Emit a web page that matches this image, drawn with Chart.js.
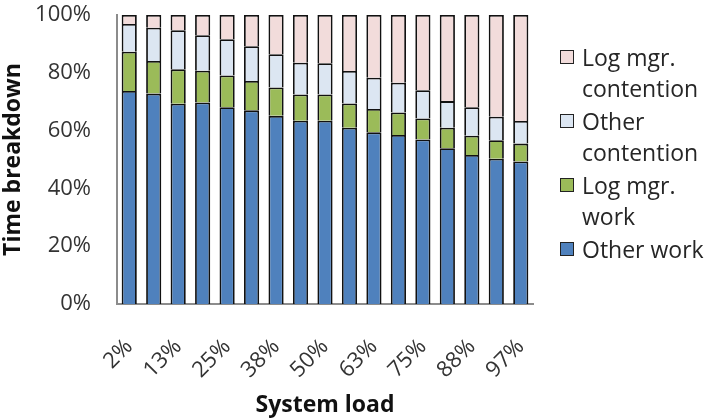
<!DOCTYPE html>
<html>
<head>
<meta charset="utf-8">
<script src="https://cdn.jsdelivr.net/npm/chart.js@4"></script>
<style>
  body { margin: 0; background: #fff; }
  #wrap { position: relative; width: 714px; height: 419px; }
  #legend { position: absolute; left: 560px; top: 42px; font-family: 'Open Sans', sans-serif; font-size: 23px; color: #262626; }
  .item { display: flex; align-items: flex-start; margin-bottom: 2px; }
  .box { width: 12px; height: 12px; border: 1.5px solid #222; margin-top: 8px; margin-right: 8px; flex: none; }
  .txt { line-height: 31px; }
</style>
</head>
<body>
<div id="wrap">
  <canvas id="load" width="714" height="419"></canvas>
  <div id="legend"></div>
</div>
<script>
const loads = ['2%','7%','13%','19%','25%','31%','38%','44%','50%','56%','63%','69%','75%','81%','88%','94%','97%']

const otherWork = [73.7, 72.8, 69.3, 69.7, 68.1, 67.0, 65.1, 63.4, 63.4, 61.0, 59.4, 58.5, 56.9, 53.9, 51.6, 50.3, 49.3]
const logWork = [13.6, 11.3, 11.9, 11.0, 11.0, 10.2, 9.8, 9.1, 9.1, 8.4, 8.1, 7.8, 7.3, 7.1, 6.6, 6.4, 6.2]
const otherCont = [9.6, 11.5, 13.5, 12.3, 12.5, 12.0, 11.5, 11.0, 10.8, 11.2, 10.8, 10.3, 9.8, 9.2, 9.9, 8.1, 7.8]
const logCont = [3.1, 4.4, 5.3, 7.0, 8.4, 10.8, 13.6, 16.5, 16.7, 19.4, 21.7, 23.4, 26.0, 29.8, 31.9, 35.2, 36.7]

const series = [
  { label: ['Other work'], data: otherWork, color: '#4f81bd' },
  { label: ['Log mgr.', 'work'], data: logWork, color: '#9bbb59' },
  { label: ['Other', 'contention'], data: otherCont, color: '#dce6f2' },
  { label: ['Log mgr.', 'contention'], data: logCont, color: '#f2dcdb' }
]

const font = 'Open Sans'

new Chart(document.getElementById('load'), {
  type: 'bar',
  data: {
    labels: loads,
    datasets: series.map(s => ({
      label: s.label.join(' '),
      data: s.data,
      backgroundColor: s.color,
      borderColor: '#111',
      borderWidth: 1.8,
      barPercentage: 0.62,
      categoryPercentage: 1
    }))
  },
  options: {
    responsive: false,
    animation: false,
    layout: { padding: { top: 15, right: 181, left: 0, bottom: 0 } },
    plugins: { legend: { display: false }, tooltip: { enabled: false } },
    scales: {
      x: {
        stacked: true,
        grid: { display: false },
        border: { color: '#8c8c8c', width: 2 },
        ticks: {
          color: '#333',
          font: { family: font, size: 22 },
          minRotation: 45,
          maxRotation: 45,
          autoSkip: false,
          padding: 22,
          callback: (v, i) => i % 2 === 0 ? loads[i] : ''
        },
        title: { display: true, text: 'System load', color: '#111', font: { family: font, size: 23, weight: 'bold' }, padding: 0 },
        afterFit: s => { s.height = 115 }
      },
      y: {
        stacked: true,
        min: 0,
        max: 100,
        grid: { display: false, drawOnChartArea: false, tickLength: 8, tickColor: '#8c8c8c', tickWidth: 2 },
        border: { color: '#8c8c8c', width: 2 },
        ticks: {
          stepSize: 20,
          color: '#333',
          font: { family: font, size: 22 },
          padding: 18,
          callback: v => v + '%'
        },
        title: { display: true, text: 'Time breakdown', color: '#111', font: { family: font, size: 23, weight: 'bold' }, padding: 0 },
        afterFit: s => {
          s.width = 117
          s.paddingTop = 0
          s.paddingBottom = 0
        }
      }
    }
  }
})

// legend drawn beside the plot, top item first like the original
const legend = document.getElementById('legend')
series.slice().reverse().forEach(s => {
  const item = document.createElement('div')
  item.className = 'item'
  item.innerHTML = '<span class="box" style="background:' + s.color + '"></span><span class="txt">' + s.label.join('<br>') + '</span>'
  legend.appendChild(item)
})
</script>
</body>
</html>
